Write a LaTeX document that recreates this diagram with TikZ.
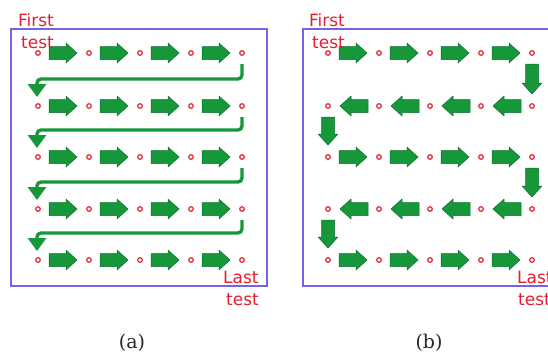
\documentclass[tikz,border=0pt]{standalone}
\usepackage{fontspec}
\newfontfamily\labelfont{DejaVu Sans}
\newfontfamily\capfont{DejaVu Serif}
\usetikzlibrary{calc,arrows.meta}
\definecolor{boxcol}{RGB}{118,98,228}
\definecolor{dotred}{RGB}{232,32,52}
\definecolor{txtred}{RGB}{228,30,48}
\definecolor{agreen}{RGB}{22,152,58}
\definecolor{agreenedge}{RGB}{12,112,42}
\tikzset{
  dotnode/.style={circle,draw=dotred,fill=white,line width=1.2bp,inner sep=0pt,minimum size=4.6bp},
  blockarrow/.style={fill=agreen,draw=agreenedge,line width=0.5bp,line join=round},
  conn/.style={draw=agreen,line width=3.4bp,rounded corners=4bp,-{Triangle[width=18bp,length=13bp]}},
  panelbox/.style={draw=boxcol,line width=1.1bp},
  redtext/.style={text=txtred,font=\labelfont\fontsize{17}{19}\selectfont,inner sep=0pt,anchor=base west},
  captext/.style={font=\capfont\fontsize{19}{21}\selectfont,text=black!85,inner sep=0pt}
}
\newcommand\garrow[2]{%
  \path ($(#1)!11bp!(#2)$) coordinate (gaS) ($(#2)!12bp!(#1)$) coordinate (gaE);
  \path ($(gaE)!11bp!(gaS)$) coordinate (gaH);
  \filldraw[blockarrow] ($(gaS)!6.5bp!90:(gaE)$) -- ($(gaH)!6.5bp!90:(gaE)$) -- ($(gaH)!10bp!90:(gaE)$) -- (gaE) -- ($(gaH)!10bp!-90:(gaE)$) -- ($(gaH)!6.5bp!-90:(gaE)$) -- ($(gaS)!6.5bp!-90:(gaE)$) -- cycle;
}
\begin{document}
\begin{tikzpicture}[x=1bp,y=-1bp]
\clip (0,0) rectangle (548,354);
\fill[white] (0,0) rectangle (548,354);
% boxes
\draw[panelbox] (11,29) rectangle (267,286);
\draw[panelbox] (303,29) rectangle (562,286);
% dots
\foreach \r/\yy in {1/53,2/106,3/157,4/209,5/260}{
  \foreach \c/\xa/\xb in {1/38/328,2/89/379,3/140/430,4/191/481,5/242/532}{
    \node[dotnode] (a\r\c) at (\xa,\yy) {};
    \node[dotnode] (b\r\c) at (\xb,\yy) {};
  }
}
% panel (a) row arrows
\foreach \r in {1,...,5}{
  \garrow{a\r1}{a\r2}\garrow{a\r2}{a\r3}\garrow{a\r3}{a\r4}\garrow{a\r4}{a\r5}
}
% panel (a) return connectors
\draw[conn] ($(a15)+(0,11)$) |- ($(a21)+(-1,-27)$) -- ($(a21)+(-1,-9)$);
\draw[conn] ($(a25)+(0,11)$) |- ($(a31)+(-1,-27)$) -- ($(a31)+(-1,-9)$);
\draw[conn] ($(a35)+(0,11)$) |- ($(a41)+(-1,-27)$) -- ($(a41)+(-1,-9)$);
\draw[conn] ($(a45)+(0,11)$) |- ($(a51)+(-1,-27)$) -- ($(a51)+(-1,-9)$);
% panel (b) arrows
\foreach \r in {1,3,5}{
  \garrow{b\r1}{b\r2}\garrow{b\r2}{b\r3}\garrow{b\r3}{b\r4}\garrow{b\r4}{b\r5}
}
\foreach \r in {2,4}{
  \garrow{b\r5}{b\r4}\garrow{b\r4}{b\r3}\garrow{b\r3}{b\r2}\garrow{b\r2}{b\r1}
}
\garrow{b15}{b25}
\garrow{b21}{b31}
\garrow{b35}{b45}
\garrow{b41}{b51}
% labels
\node[redtext] (afirst) at (18,26) {First};
\node[redtext] (afirstt) at (21,48) {test};
\node[redtext] (alast) at (223,283) {Last};
\node[redtext] (alastt) at (226,305) {test};
\node[redtext] (bfirst) at (309,26) {First};
\node[redtext] (bfirstt) at (312,48) {test};
\node[redtext] (blast) at (517,283) {Last};
\node[redtext] (blastt) at (518,305) {test};
\node[captext] (capa) at (132,343) {(a)};
\node[captext] (capb) at (429,343) {(b)};
\end{tikzpicture}
\end{document}
